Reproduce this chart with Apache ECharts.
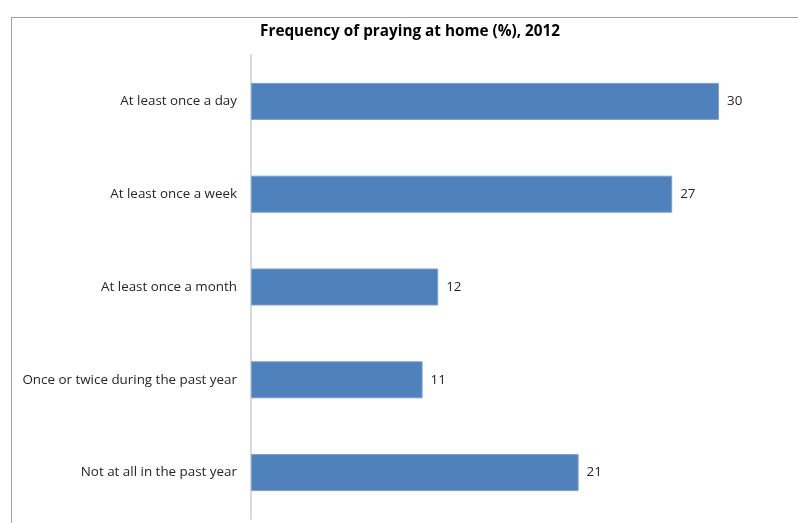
<!DOCTYPE html>
<html><head><meta charset="utf-8">
<script src="https://cdn.jsdelivr.net/npm/echarts@6/dist/echarts.min.js"></script>
<style>html,body{margin:0;padding:0;background:#fff}#c{width:798px;height:523px}</style>
</head><body><div id="c"></div>
<script>
const titleText = 'Frequency of praying at home (%), 2012';
const categories = ['At least once a day','At least once a week','At least once a month','Once or twice during the past year','Not at all in the past year'];
const values = [30, 27, 12, 11, 21];

const chart = echarts.init(document.getElementById('c'));
chart.setOption({
  animation: false,
  backgroundColor: '#fff',
  title: {
    text: titleText, left: 410, top: 19, textAlign: 'center',
    textStyle: {fontFamily: 'Open Sans', fontSize: 15.3, fontWeight: 'bold', color: '#000'}
  },
  graphic: [
    {type: 'line', shape: {x1: 11.5, y1: 17, x2: 11.5, y2: 523}, style: {stroke: '#a0a0a0', lineWidth: 1}},
    {type: 'line', shape: {x1: 11, y1: 17.5, x2: 798, y2: 17.5}, style: {stroke: '#a0a0a0', lineWidth: 1}}
  ],
  grid: {left: 251, top: 55, width: 499.2, height: 464, containLabel: false},
  xAxis: {type: 'value', min: 0, max: 32, show: false},
  yAxis: {
    type: 'category', data: categories, inverse: true,
    axisLine: {show: true, lineStyle: {color: '#d9d9d9', width: 2}},
    axisTick: {show: false},
    axisLabel: {margin: 14, fontFamily: 'Open Sans', fontSize: 13.4, color: '#262626'}
  },
  series: [{
    type: 'bar', data: values, barWidth: 37,
    itemStyle: {color: '#4f81bd', borderColor: '#7aa0d0', borderWidth: 1},
    label: {show: true, position: 'right', distance: 8, fontFamily: 'Open Sans', fontSize: 13.4, color: '#262626'}
  }]
});
chart.setOption({title: {left: 405}});
</script></body></html>
